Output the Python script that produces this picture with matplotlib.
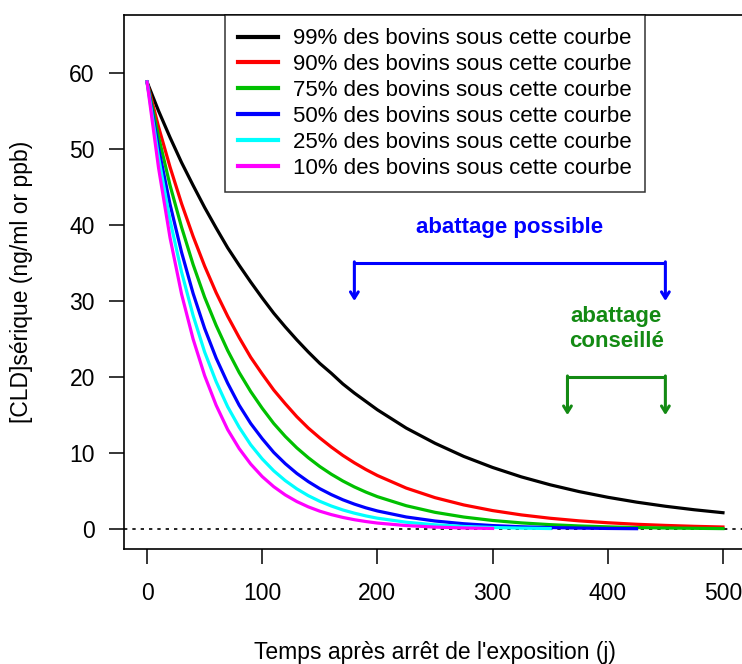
import matplotlib
matplotlib.use("Agg")
import matplotlib.pyplot as plt

plt.rcParams["font.family"] = ["Liberation Sans", "DejaVu Sans"]

# jours après l'arrêt de l'exposition
days = [0, 10, 20, 30, 40, 50, 60, 70, 80, 90, 100,
        110, 120, 130, 140, 150, 160, 170, 180, 190, 200,
        225, 250, 275, 300, 325, 350, 375, 400, 425, 450, 475, 500]

# [CLD] sérique (ng/ml)
cld_99 = [58.8, 55.0, 51.5, 48.2, 45.2, 42.3, 39.6, 37.0, 34.7, 32.5, 30.4,
          28.4, 26.6, 24.9, 23.3, 21.8, 20.5, 19.1, 17.9, 16.8, 15.7,
          13.3, 11.3, 9.57, 8.12, 6.88, 5.84, 4.95, 4.20, 3.56, 3.02, 2.56, 2.17]
cld_90 = [58.8, 52.9, 47.6, 42.8, 38.5, 34.6, 31.1, 28.0, 25.2, 22.6, 20.4,
          18.3, 16.5, 14.8, 13.3, 12.0, 10.8, 9.70, 8.73, 7.85, 7.06,
          5.41, 4.15, 3.19, 2.45, 1.88, 1.44, 1.10, 0.85, 0.65, 0.50, 0.38, 0.29]
cld_75 = [58.8, 51.6, 45.2, 39.7, 34.8, 30.5, 26.8, 23.5, 20.6, 18.1, 15.9,
          13.9, 12.2, 10.7, 9.40, 8.24, 7.23, 6.34, 5.56, 4.88, 4.28,
          3.09, 2.22, 1.60, 1.15, 0.83, 0.60, 0.43, 0.31, 0.22, 0.16, 0.12, 0.08]
cld_50 = [58.8, 50.1, 42.7, 36.4, 31.0, 26.4, 22.5, 19.2, 16.3, 13.9, 11.9,
          10.1, 8.62, 7.34, 6.26, 5.33, 4.55, 3.87, 3.30, 2.81, 2.40,
          1.61, 1.08, 0.72, 0.48, 0.32, 0.22, 0.15, 0.10, 0.07]
cld_25 = [58.8, 48.9, 40.6, 33.8, 28.1, 23.3, 19.4, 16.1, 13.4, 11.1, 9.24,
          7.68, 6.39, 5.31, 4.41, 3.67, 3.05, 2.53, 2.11, 1.75, 1.45,
          0.92, 0.58, 0.36, 0.23, 0.14, 0.09]
cld_10 = [58.8, 47.5, 38.3, 30.9, 25.0, 20.2, 16.3, 13.1, 10.6, 8.57, 6.92,
          5.59, 4.51, 3.64, 2.94, 2.37, 1.92, 1.55, 1.25, 1.01, 0.81,
          0.48, 0.28, 0.16, 0.10]

series = [
    ("99% des bovins sous cette courbe", cld_99, "black"),
    ("90% des bovins sous cette courbe", cld_90, "red"),
    ("75% des bovins sous cette courbe", cld_75, "#00c000"),
    ("50% des bovins sous cette courbe", cld_50, "blue"),
    ("25% des bovins sous cette courbe", cld_25, "cyan"),
    ("10% des bovins sous cette courbe", cld_10, "magenta"),
]

fig = plt.figure(figsize=(7.42, 6.64), dpi=100)
ax = fig.add_axes([0.1671, 0.1732, 0.8383, 0.8042])

ax.axhline(0, color="black", lw=1.2, ls=(0, (2, 3)), zorder=1)

for label, vals, col in series:
    ax.plot(days[:len(vals)], vals, color=col, lw=2.3, label=label, zorder=2)

# flèches "abattage possible"
blue = "blue"
ax.plot([180, 450], [35, 35], color=blue, lw=2.2, solid_capstyle="butt")
for x in (180, 450):
    ax.annotate("", xy=(x, 30), xytext=(x, 35.15),
                arrowprops=dict(arrowstyle="->,head_length=0.45,head_width=0.28",
                                color=blue, lw=2.2, shrinkA=0, shrinkB=0))
ax.text(315, 39.6, "abattage possible", color=blue, fontsize=16,
        fontweight="bold", ha="center", va="center")

# flèches "abattage conseillé"
green = "#138a13"
ax.plot([365, 450], [20, 20], color=green, lw=2.2, solid_capstyle="butt")
for x in (365, 450):
    ax.annotate("", xy=(x, 15), xytext=(x, 20.15),
                arrowprops=dict(arrowstyle="->,head_length=0.45,head_width=0.28",
                                color=green, lw=2.2, shrinkA=0, shrinkB=0))
ax.text(407.5, 26.3, "abattage\nconseillé", color=green, fontsize=16,
        fontweight="bold", ha="center", va="center", linespacing=1.25)

ax.set_xlim(-20, 520)
ax.set_ylim(-2.6, 67.6)
ax.set_xticks([0, 100, 200, 300, 400, 500])
ax.set_yticks([0, 10, 20, 30, 40, 50, 60])
ax.tick_params(axis="both", direction="out", length=11, width=1.1,
               labelsize=16.5, colors="black")
ax.tick_params(axis="x", pad=13)
ax.tick_params(axis="y", pad=10)
for sp in ax.spines.values():
    sp.set_linewidth(1.2)

leg = ax.legend(loc="upper center", bbox_to_anchor=(0.5, 1.0), borderaxespad=0,
                fontsize=16, frameon=True, fancybox=False, edgecolor="black",
                handlelength=1.8, handletextpad=0.65, labelspacing=0.22,
                borderpad=0.6)
leg.get_frame().set_linewidth(1.1)
for line in leg.get_lines():
    line.set_linewidth(3)

fig.text(435 / 742, 1 - 652 / 664, "Temps après arrêt de l'exposition (j)",
         fontsize=16.5, ha="center", va="center")
fig.text(22 / 742, 1 - 282 / 664, "[CLD]sérique (ng/ml or ppb)",
         fontsize=16.5, ha="center", va="center", rotation=90)

fig.savefig("out.png", dpi=100)
